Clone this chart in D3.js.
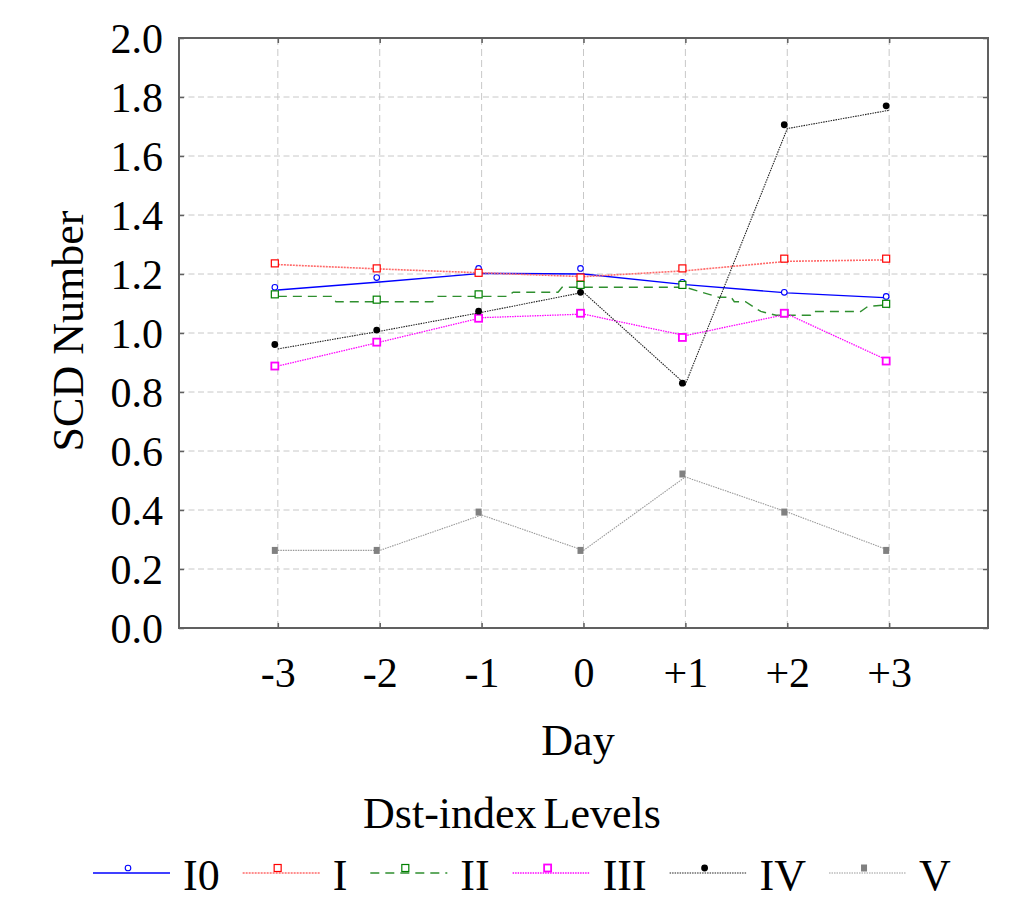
<!DOCTYPE html>
<html>
<head>
<meta charset="utf-8">
<script src="https://cdn.jsdelivr.net/npm/d3@7"></script>
<style>
  body { margin: 0; background: #fff; }
  svg text { font-family: "Liberation Serif", "Times New Roman", serif; fill: #000; }
</style>
</head>
<body>
<svg id="chart" width="1016" height="900"></svg>
<script>
// values
const DAYS = [-3, -2, -1, 0, 1, 2, 3];
const DAY_LABELS = ["-3", "-2", "-1", "0", "+1", "+2", "+3"];
const Y_TICKS = [0, 0.2, 0.4, 0.6, 0.8, 1.0, 1.2, 1.4, 1.6, 1.8, 2.0];

// marker values per level
const I0_PTS  = [1.155, 1.188, 1.219, 1.219, 1.172, 1.138, 1.124];
const I_PTS   = [1.236, 1.219, 1.204, 1.188, 1.219, 1.252, 1.252];
const II_PTS  = [1.131, 1.113, 1.131, 1.163, 1.163, 1.067, 1.099];
const III_PTS = [0.888, 0.969, 1.050, 1.067, 0.985, 1.067, 0.905];
const IV_PTS  = [0.961, 1.010, 1.074, 1.138, 0.830, 1.706, 1.770];
const V_PTS   = [0.263, 0.263, 0.393, 0.263, 0.522, 0.393, 0.263];

// the drawn lines don't quite go through the markers (fitted in the original)
const I0_LINE  = [1.146, 1.173, 1.202, 1.200, 1.164, 1.136, 1.119];
const I_LINE   = [1.232, 1.217, 1.204, 1.191, 1.211, 1.243, 1.248];
const III_LINE = [0.888, 0.969, 1.052, 1.064, 0.991, 1.064, 0.905];
const IV_LINE  = [0.946, 1.006, 1.070, 1.138, 0.826, 1.693, 1.755];
const V_LINE   = [0.263, 0.263, 0.383, 0.263, 0.512, 0.393, 0.263];
// level II line is stair-stepped, so it gets its own day positions
const II_LINE_DAY = [-3, -2.46, -2.43, -1.48, -1.43, -0.75, -0.69, -0.25, -0.21, 1.0, 1.33, 1.45, 1.48, 1.59, 1.74, 1.89, 2.23, 2.26, 2.72, 2.79, 3.0];
const II_LINE_VAL = [1.124, 1.124, 1.106, 1.106, 1.124, 1.124, 1.138, 1.138, 1.155, 1.155, 1.121, 1.121, 1.106, 1.106, 1.073, 1.060, 1.060, 1.073, 1.073, 1.090, 1.096];

const LEVELS = ["I0", "I", "II", "III", "IV", "V"];

const series = [
  {name: LEVELS[0], pts: I0_PTS,  line: DAYS.map((d, i) => [d, I0_LINE[i]]),
   color: "#0000ff", width: 1.4, dash: null, mark: "circle"},
  {name: LEVELS[1], pts: I_PTS,   line: DAYS.map((d, i) => [d, I_LINE[i]]),
   color: "#ff6a6a", width: 1.6, dash: "2,1", mark: "square", mcolor: "#ff0000"},
  {name: LEVELS[2], pts: II_PTS,  line: II_LINE_DAY.map((d, i) => [d, II_LINE_VAL[i]]),
   color: "#2f8f2f", width: 1.4, dash: "9,6", mark: "square", mcolor: "#008000"},
  {name: LEVELS[3], pts: III_PTS, line: DAYS.map((d, i) => [d, III_LINE[i]]),
   color: "#ff00ff", width: 1.3, dash: "1.5,1", mark: "square2"},
  {name: LEVELS[4], pts: IV_PTS,  line: DAYS.map((d, i) => [d, IV_LINE[i]]),
   color: "#222", width: 1.1, dash: "1.5,1", mark: "dot"},
  {name: LEVELS[5], pts: V_PTS,   line: DAYS.map((d, i) => [d, V_LINE[i]]),
   color: "#999", width: 1.1, dash: "1.5,1", mark: "block", mcolor: "#808080"}
];

const svg = d3.select("#chart");
const L = 179, R = 988, T = 38, B = 628;
const x = d3.scaleLinear([-3.97, 3.97], [L, R]);
const y = d3.scaleLinear([0, 2], [B, T]);
const GRID = "#c8c8c8", FRAME = "#606060";

// grid
svg.append("g").selectAll("line").data(Y_TICKS.slice(1, -1)).join("line")
  .attr("x1", L).attr("x2", R).attr("y1", (d) => y(d)).attr("y2", (d) => y(d))
  .attr("stroke", GRID).attr("stroke-width", 1).attr("stroke-dasharray", "6,3.5");
svg.append("g").selectAll("line").data(DAYS).join("line")
  .attr("x1", (d) => x(d)).attr("x2", (d) => x(d)).attr("y1", T).attr("y2", B)
  .attr("stroke", GRID).attr("stroke-width", 1).attr("stroke-dasharray", "7,4");

// axes: ticks point inward on all four sides
const ax = (g, axis) => g.call(axis).call((s) => s.select(".domain").remove())
  .call((s) => s.selectAll(".tick line").attr("stroke", FRAME).attr("stroke-width", 1.5));
svg.append("g").attr("transform", `translate(0,${B})`)
  .call((g) => ax(g, d3.axisBottom(x).tickValues(DAYS).tickSize(-5).tickPadding(30)
    .tickFormat((d, i) => DAY_LABELS[i])))
  .selectAll("text").attr("font-size", 42).attr("dy", "0.7em");
svg.append("g").attr("transform", `translate(0,${T})`)
  .call((g) => ax(g, d3.axisTop(x).tickValues(DAYS).tickSize(-5).tickFormat("")));
svg.append("g").attr("transform", `translate(${L},0)`)
  .call((g) => ax(g, d3.axisLeft(y).tickValues(Y_TICKS).tickSize(-5).tickPadding(16)
    .tickFormat(d3.format(".1f"))))
  .selectAll("text").attr("font-size", 42).attr("dy", "0.34em");
svg.append("g").attr("transform", `translate(${R},0)`)
  .call((g) => ax(g, d3.axisRight(y).tickValues(Y_TICKS).tickSize(-5).tickFormat("")));
svg.selectAll(".tick text").attr("fill", "#000").attr("font-family", "Liberation Serif");

svg.append("rect").attr("x", L).attr("y", T).attr("width", R - L).attr("height", B - T)
  .attr("fill", "none").attr("stroke", FRAME).attr("stroke-width", 2);

// markers
function marker(g, s, cx, cy) {
  const mc = s.mcolor || s.color;
  if (s.mark === "circle")
    g.append("circle").attr("cx", cx).attr("cy", cy).attr("r", 2.8)
      .attr("fill", "#fff").attr("stroke", mc).attr("stroke-width", 1.1);
  else if (s.mark === "square" || s.mark === "square2")
    g.append("rect").attr("x", cx - 3.5).attr("y", cy - 3.5).attr("width", 7).attr("height", 7)
      .attr("fill", "#fff").attr("stroke", mc).attr("stroke-width", s.mark === "square2" ? 1.8 : 1.2);
  else if (s.mark === "dot")
    g.append("circle").attr("cx", cx).attr("cy", cy).attr("r", 3.4).attr("fill", "#000");
  else
    g.append("rect").attr("x", cx - 3).attr("y", cy - 3.5).attr("width", 6).attr("height", 7)
      .attr("fill", mc);
}

const line = d3.line().x((p) => x(p[0])).y((p) => y(p[1]));
series.forEach((s) => {
  const g = svg.append("g");
  g.append("path").attr("d", line(s.line)).attr("fill", "none")
    .attr("stroke", s.color).attr("stroke-width", s.width)
    .attr("stroke-dasharray", s.dash);
  s.pts.forEach((v, i) => marker(g, s, x(DAYS[i]) - 3, y(v)));
});

// titles
svg.append("text").attr("x", 578).attr("y", 755).attr("text-anchor", "middle")
  .attr("font-size", 44).text("Day");
svg.append("text").attr("transform", "translate(83,331) rotate(-90)")
  .attr("text-anchor", "middle").attr("font-size", 44).text("SCD Number");
svg.append("text").attr("x", 512).attr("y", 828).attr("text-anchor", "middle")
  .attr("font-size", 44).attr("word-spacing", -4).text("Dst-index Levels");

// legend row
let lx = 93;
series.forEach((s) => {
  const g = svg.append("g");
  g.append("line").attr("x1", lx).attr("x2", lx + 77).attr("y1", 873).attr("y2", 873)
    .attr("stroke", s.color).attr("stroke-width", s.width)
    .attr("stroke-dasharray", s.dash);
  marker(g, s, lx + 35, 868);
  const t = g.append("text").attr("x", lx + 90).attr("y", 890)
    .attr("font-size", 44).text(s.name);
  lx += 90 + t.node().getComputedTextLength() + 23;
});
</script>
</body>
</html>
